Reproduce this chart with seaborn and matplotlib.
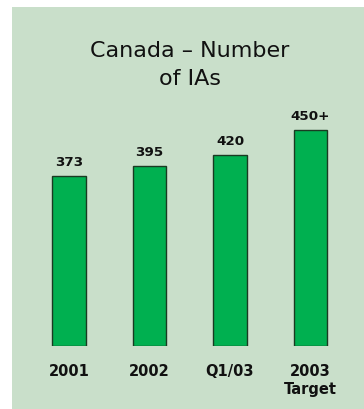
import matplotlib
matplotlib.use("Agg")
import matplotlib.pyplot as plt
import seaborn as sns
import pandas as pd
from matplotlib.patches import Rectangle

categories = ["2001", "2002", "Q1/03", "2003\nTarget"]
bar_heights = [373, 395, 420, 475]
value_labels = ["373", "395", "420", "450+"]
title = "Canada \u2013 Number\nof IAs"

df = pd.DataFrame({"cat": categories, "val": bar_heights})

sns.set_theme(style="white")
plt.rcParams["font.family"] = ["DejaVu Sans"]

W, H = 364, 409
fig = plt.figure(figsize=(W / 100, H / 100), dpi=100)
fig.patch.set_facecolor("white")
bg = "#c9dfca"
fig.patches.append(Rectangle((12 / W, 0), 1 - 12 / W, 1 - 7 / H,
                             transform=fig.transFigure, facecolor=bg,
                             edgecolor="none", zorder=-10))

ax = fig.add_axes([28.75 / W, (H - 345.5) / H, 322 / W, 245.5 / H])
ax.set_facecolor("none")
sns.barplot(data=df, x="cat", y="val", ax=ax, color="#00b050",
            width=0.41, saturation=1, edgecolor="#1a3a22", linewidth=1)
ax.set_xlim(-0.5, 3.5)
ax.set_ylim(0, 245.5 / 0.4545)
for i, (h, lab) in enumerate(zip(bar_heights, value_labels)):
    ax.annotate(lab, (i, h), xytext=(0, 5), textcoords="offset points",
                ha="center", va="bottom", fontsize=9.7, fontweight="bold",
                color="#111111")
ax.set_xlabel("")
ax.set_ylabel("")
ax.set_yticks([])
ax.tick_params(axis="x", length=0, pad=13, labelsize=10.5, labelcolor="#111111")
for t in ax.get_xticklabels():
    t.set_fontweight("bold")
    t.set_linespacing(1.25)
for s in ax.spines.values():
    s.set_visible(False)

fig.text(190 / W, 1 - 65 / H, title, ha="center", va="center",
         fontsize=16, color="#111111", linespacing=1.45)

fig.savefig("out.png", dpi=100)
